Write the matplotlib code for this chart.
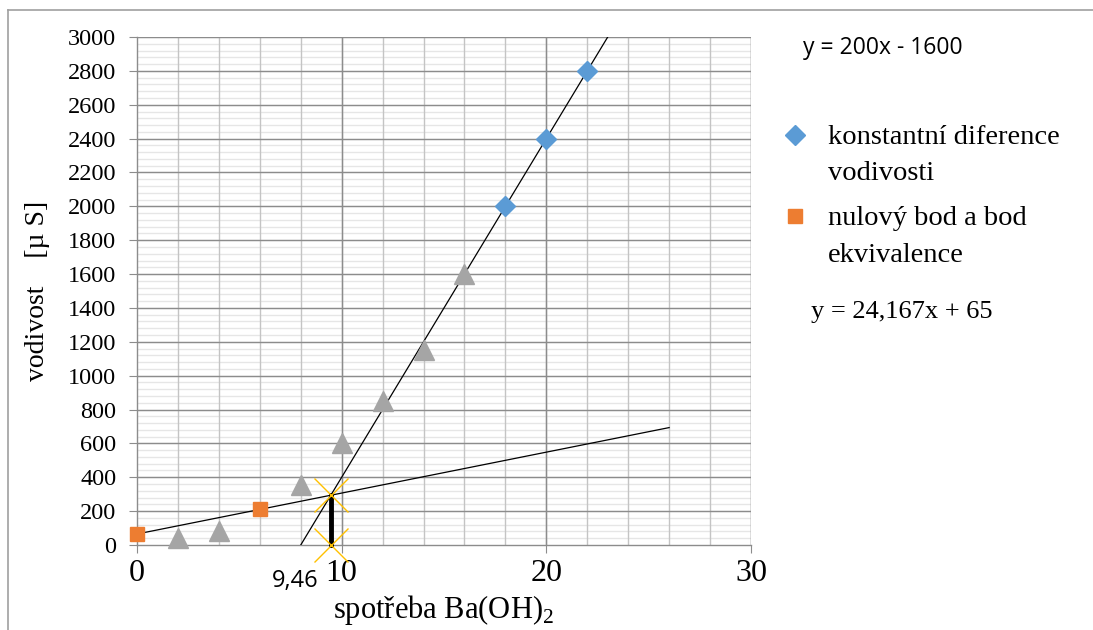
import matplotlib
matplotlib.use("Agg")
import numpy as np
import matplotlib.pyplot as plt
from matplotlib.lines import Line2D
from matplotlib.legend_handler import HandlerLine2D
from matplotlib.ticker import MultipleLocator

plt.rcParams['font.family'] = ['Liberation Serif', 'DejaVu Serif']
plt.rcParams['mathtext.fontset'] = 'custom'
plt.rcParams['mathtext.rm'] = 'Liberation Serif'

# data
konst_x = [18, 20, 22]
konst_y = [2000, 2400, 2800]
nul_x = [0, 6]
nul_y = [65, 210]
ostatni_x = [2, 4, 8, 10, 12, 14, 16]
ostatni_y = [40, 85, 355, 600, 850, 1150, 1600]

# trend lines
strma_k, strma_q = 200, -1600
strma_x = [8, 23]
plocha_k, plocha_q = 24.167, 65
plocha_x = [0, 26]

ekv_x = 9.46
ekv_label = "9,46"


class FirstLineHandler(HandlerLine2D):
    """puts the legend marker next to the first line of a two-line label"""
    def create_artists(self, legend, orig_handle, xdescent, ydescent, width, height,
                       fontsize, trans):
        artists = super().create_artists(legend, orig_handle, xdescent, ydescent,
                                         width, height, fontsize, trans)
        for a in artists:
            a.set_ydata(np.asarray(a.get_ydata()) + 0.72 * fontsize)
        return artists


fig = plt.figure(figsize=(10.93, 6.3), dpi=100)
W, H = 1093, 630
ax = fig.add_axes([137 / W, (630 - 545) / H, (751 - 137) / W, (545 - 37) / H])

ax.set_xlim(0, 30)
ax.set_ylim(0, 3000)
ax.xaxis.set_major_locator(MultipleLocator(10))
ax.yaxis.set_major_locator(MultipleLocator(200))

# grid: light horizontal minors first, then vertical minors, then majors
for y in np.arange(40, 3001, 40):
    ax.axhline(y, color='#e6e6e6', lw=1.0, zorder=0.5)
for x in np.arange(2, 31, 2):
    ax.axvline(x, color='#c4c4c4', lw=1.0, zorder=0.6)
for y in np.arange(200, 3001, 200):
    ax.axhline(y, color='#8c8c8c', lw=1.0, zorder=0.7)
for x in np.arange(10, 31, 10):
    ax.axvline(x, color='#8c8c8c', lw=1.0, zorder=0.8)

for s in ['top', 'right']:
    ax.spines[s].set_visible(False)
for s in ['left', 'bottom']:
    ax.spines[s].set_color('#8c8c8c')
    ax.spines[s].set_linewidth(1.0)

ax.tick_params(axis='y', which='major', direction='out', length=6, color='#8c8c8c',
               labelsize=17.5, pad=9)
ax.tick_params(axis='x', which='major', direction='out', length=6, color='#8c8c8c',
               labelsize=23, pad=4)

# trend lines
ax.plot(strma_x, [strma_k * x + strma_q for x in strma_x], color='black', lw=0.9, zorder=3)
ax.plot(plocha_x, [plocha_k * x + plocha_q for x in plocha_x], color='black', lw=0.9, zorder=3)

# points
ax.plot(ostatni_x, ostatni_y, ls='none', marker='^', ms=14, color='#a5a5a5', zorder=4,
        clip_on=False)
ax.plot(konst_x, konst_y, ls='none', marker='D', ms=10, color='#5b9bd5', zorder=4,
        clip_on=False, label="konstantní diference\nvodivosti")
ax.plot(nul_x, nul_y, ls='none', marker='s', ms=10, color='#ed7d31', zorder=4,
        clip_on=False, label="nulový bod a bod\nekvivalence")

# equivalence point
ekv_y = plocha_k * ekv_x + plocha_q
ax.plot([ekv_x, ekv_x], [0, ekv_y], color='black', lw=3.5, zorder=5, clip_on=False)
ax.plot([ekv_x, ekv_x], [0, ekv_y], ls='none', marker='x', ms=25, mew=1.0,
        color='#ffc000', zorder=6, clip_on=False)
ax.annotate(ekv_label, xy=(ekv_x, 0), xytext=(-12, -24), textcoords='offset pixels',
            ha='right', va='top', fontsize=17, family=['Open Sans', 'DejaVu Sans'])

ax.set_ylabel("vodivost    [µ S]", fontsize=20)
ax.yaxis.set_label_coords((50 - 137) / 614, 0.5)
fig.text(444 / W, 1 - 610 / H, "spotřeba Ba(OH)$_2$", ha='center', va='center', fontsize=22)

leg = ax.legend(loc='upper left', bbox_to_anchor=(782 / W, 1 - 125 / H),
                bbox_transform=fig.transFigure, frameon=False, fontsize=20.5,
                handlelength=0.9, handletextpad=0.7, labelspacing=0.7,
                borderaxespad=0, borderpad=0,
                handler_map={Line2D: FirstLineHandler()})
for t in leg.get_texts():
    t.set_linespacing(1.6)

fig.text(803 / W, 1 - 48 / H, "y = 200x - 1600", ha='left', va='center', fontsize=16.5,
         family=['Open Sans', 'DejaVu Sans'])
fig.text(811 / W, 1 - 312 / H, "y = 24,167x + 65", ha='left', va='center', fontsize=19)

# outer chart frame
fig.add_artist(Line2D([8 / W, 1.01], [1 - 10 / H, 1 - 10 / H], color='#a0a0a0', lw=1.2))
fig.add_artist(Line2D([8 / W, 8 / W], [-0.01, 1 - 10 / H], color='#a0a0a0', lw=1.2))

fig.savefig("out.png", dpi=100)
